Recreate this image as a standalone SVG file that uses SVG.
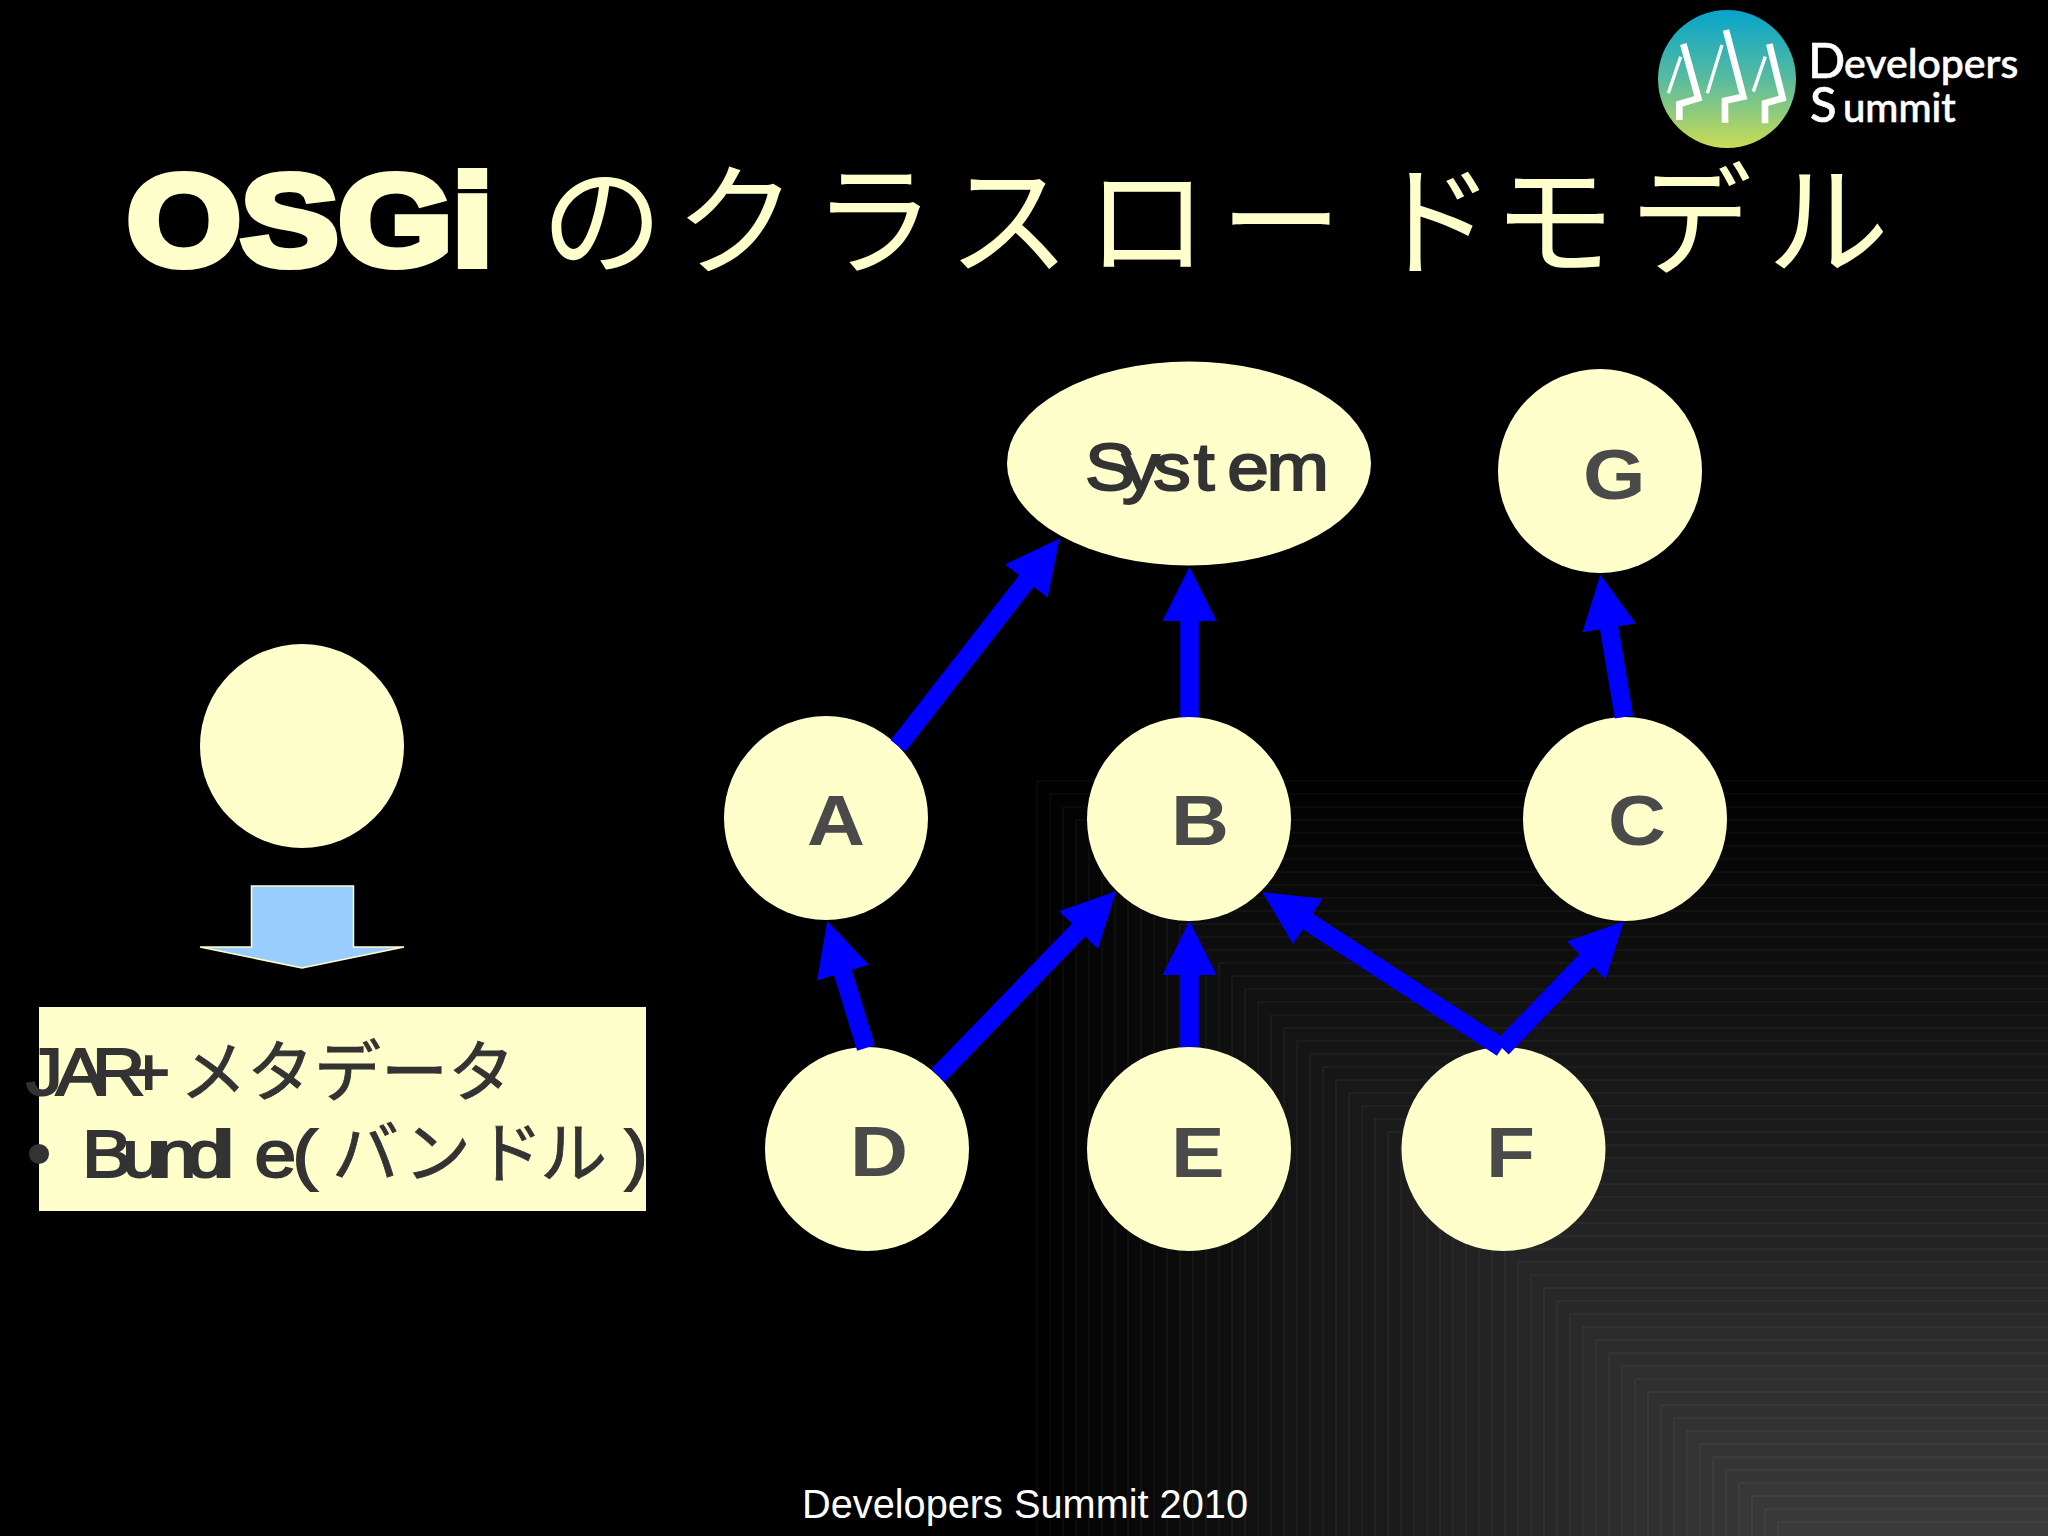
<svg xmlns="http://www.w3.org/2000/svg" width="2048" height="1536" viewBox="0 0 2048 1536">
<style>
.n{fill:#ffffcc}
.lb{font-family:"Liberation Sans",Arial,sans-serif;font-weight:700;font-size:70px;fill:#4a4a4a}
.sq{font-family:"Liberation Sans","Noto Sans CJK JP",sans-serif;font-size:67px;fill:#333;stroke:#333;stroke-width:2px}
.jp{font-family:"Noto Sans CJK JP",sans-serif;font-size:67px;fill:#333;stroke:#333;stroke-width:.8px}
.t{fill:#ffffcc}
.arrow{stroke:#0000ff;stroke-width:18.5;fill:none;marker-end:url(#h)}
.bg rect{width:1100px;height:800px;stroke:#fff;stroke-opacity:.07;stroke-width:1}
.lt{font-family:Lato,"Noto Sans",sans-serif;font-weight:500;fill:#fff;stroke:#fff;stroke-width:.6px}
</style>
<defs>
<marker id="h" markerUnits="userSpaceOnUse" viewBox="0 -27 54 54" refX="1" refY="0" markerWidth="54" markerHeight="54" orient="auto"><path d="M0-27L54 0 0 27z" fill="#0000ff"/></marker>
<linearGradient id="lg" x1="0" y1="0" x2="0" y2="1"><stop offset="0" stop-color="#06a4cc"/><stop offset=".5" stop-color="#58bb9f"/><stop offset="1" stop-color="#cbdc55"/></linearGradient>
</defs>
<rect width="2048" height="1536" fill="#000"/>
<g id="background" class="bg">
<rect x="1037" y="781" fill="#010101"/><rect x="1050" y="794" fill="#020202"/><rect x="1063" y="807" fill="#030303"/><rect x="1076" y="820" fill="#040404"/><rect x="1089" y="833" fill="#050505"/><rect x="1102" y="846" fill="#060606"/><rect x="1115" y="859" fill="#070707"/><rect x="1128" y="872" fill="#080808"/><rect x="1141" y="885" fill="#090909"/><rect x="1154" y="898" fill="#0a0a0a"/><rect x="1167" y="911" fill="#0b0b0b"/><rect x="1180" y="924" fill="#0c0c0c"/><rect x="1193" y="937" fill="#0d0d0d"/><rect x="1206" y="950" fill="#0e0e0e"/><rect x="1219" y="963" fill="#0f0f0f"/><rect x="1232" y="976" fill="#101010"/><rect x="1245" y="989" fill="#111111"/><rect x="1258" y="1002" fill="#121212"/><rect x="1271" y="1015" fill="#131313"/><rect x="1284" y="1028" fill="#141414"/><rect x="1297" y="1041" fill="#151515"/><rect x="1310" y="1054" fill="#161616"/><rect x="1323" y="1067" fill="#171717"/><rect x="1336" y="1080" fill="#181818"/><rect x="1349" y="1093" fill="#191919"/><rect x="1362" y="1106" fill="#1a1a1a"/><rect x="1375" y="1119" fill="#1b1b1b"/><rect x="1388" y="1132" fill="#1c1c1c"/><rect x="1401" y="1145" fill="#1d1d1d"/><rect x="1414" y="1158" fill="#1e1e1e"/><rect x="1427" y="1171" fill="#1f1f1f"/><rect x="1440" y="1184" fill="#202020"/><rect x="1453" y="1197" fill="#212121"/><rect x="1466" y="1210" fill="#222222"/><rect x="1479" y="1223" fill="#232323"/><rect x="1492" y="1236" fill="#242424"/><rect x="1505" y="1249" fill="#252525"/><rect x="1518" y="1262" fill="#262626"/><rect x="1531" y="1275" fill="#272727"/><rect x="1544" y="1288" fill="#282828"/><rect x="1557" y="1301" fill="#292929"/><rect x="1570" y="1314" fill="#2a2a2a"/><rect x="1583" y="1327" fill="#2b2b2b"/><rect x="1596" y="1340" fill="#2c2c2c"/><rect x="1609" y="1353" fill="#2d2d2d"/><rect x="1622" y="1366" fill="#2e2e2e"/><rect x="1635" y="1379" fill="#2f2f2f"/><rect x="1648" y="1392" fill="#303030"/><rect x="1661" y="1405" fill="#313131"/><rect x="1674" y="1418" fill="#323232"/><rect x="1687" y="1431" fill="#343334"/><rect x="1700" y="1444" fill="#353435"/><rect x="1713" y="1457" fill="#363536"/><rect x="1726" y="1470" fill="#373637"/><rect x="1739" y="1483" fill="#383738"/><rect x="1752" y="1496" fill="#393839"/><rect x="1765" y="1509" fill="#3a393a"/><rect x="1778" y="1522" fill="#3b3a3b"/>
</g>
<g id="logo">
<circle cx="1727" cy="79" r="69" fill="url(#lg)"/>
<g transform="translate(1650 10) scale(.3333)" fill="none" stroke="#fff" stroke-linejoin="miter">
<path stroke-width="20" d="M100 102L145 265 88 282 88 330"/><path stroke-width="10" d="M92 140L55 250"/>
<path stroke-width="20" d="M228 60L280 260 225 272 225 338"/><path stroke-width="10" d="M216 105L172 250"/>
<path stroke-width="20" d="M358 102L398 265 345 280 345 340"/><path stroke-width="10" d="M346 140L310 245"/>
</g>
<text class="lt" y="78" x="1808" font-size="41"><tspan font-size="49">D</tspan><tspan x="1844">evelopers</tspan></text>
<text class="lt" y="122" x="1810" font-size="40"><tspan font-size="49">S</tspan><tspan x="1843">ummit</tspan></text>
</g>
<g id="title">
<text x="127" y="265" class="t" font-family="Liberation Sans,Arial,sans-serif" font-weight="700" font-size="128" textLength="366" lengthAdjust="spacingAndGlyphs" stroke="#ffffcc" stroke-width="8">OSGi</text>
<text class="t" font-family="Noto Sans CJK JP,sans-serif" font-size="122" text-anchor="middle" x="602 736 874 1009 1147 1281 1434 1554 1691 1828" y="265">のクラスロードモデル</text>
</g>
<g id="node-unnamed"><circle class="n" cx="302" cy="746" r="102"/></g>
<g id="down-arrow"><path d="M251.5 886H353.5V947H404L302 968 200 947H251.5z" fill="#99ccff" stroke="#ffffcc" stroke-width="1.5"/></g>
<g id="bundle-box">
<rect class="n" x="39" y="1007" width="607" height="204"/>
<text class="sq" transform="translate(26 1095) scale(1.1 1)" x="0 27 60 92">JAR+</text>
<text class="jp" y="1096" x="180 247 314 381 448">メタデータ</text>
<text x="39" y="1176" text-anchor="middle" class="sq">•</text>
<text class="sq" transform="translate(82 1177) scale(1.12 1)" x="0 36 65 94 121 154 188">Bundle(</text>
<text class="jp" y="1177" x="332 404 476 540">バンドル</text>
<text class="sq" y="1177" x="625">)</text>
</g>
<g id="node-system"><ellipse class="n" cx="1189" cy="463.5" rx="182" ry="102"/><text class="sq" transform="translate(1085 490) scale(1.12 1)" x="0 33 61 97 127 162">System</text></g>
<g id="node-g"><circle class="n" cx="1600" cy="471" r="102"/><text class="lb" x="1583" y="499" textLength="62.5" lengthAdjust="spacingAndGlyphs">G</text></g>
<g id="node-a"><circle class="n" cx="826" cy="818" r="102"/><text class="lb" x="807" y="845" textLength="58" lengthAdjust="spacingAndGlyphs">A</text></g>
<g id="node-b"><circle class="n" cx="1189" cy="819" r="102"/><text class="lb" x="1171" y="845" textLength="58" lengthAdjust="spacingAndGlyphs">B</text></g>
<g id="node-c"><circle class="n" cx="1625" cy="819" r="102"/><text class="lb" x="1608" y="845" textLength="58" lengthAdjust="spacingAndGlyphs">C</text></g>
<g id="node-d"><circle class="n" cx="867" cy="1149" r="102"/><text class="lb" x="850" y="1176" textLength="58" lengthAdjust="spacingAndGlyphs">D</text></g>
<g id="node-e"><circle class="n" cx="1189" cy="1149" r="102"/><text class="lb" x="1171" y="1177" textLength="53.6" lengthAdjust="spacingAndGlyphs">E</text></g>
<g id="node-f"><circle class="n" cx="1503.5" cy="1149" r="102"/><text class="lb" x="1486" y="1177" textLength="49" lengthAdjust="spacingAndGlyphs">F</text></g>
<g id="connectors">
<line class="arrow" x1="898" y1="746" x2="1027" y2="580.3"/>
<line class="arrow" x1="1189.5" y1="717" x2="1189.5" y2="620"/>
<line class="arrow" x1="1624" y1="717" x2="1609" y2="627"/>
<line class="arrow" x1="866" y1="1048" x2="842.7" y2="971.7"/>
<line class="arrow" x1="938" y1="1075.5" x2="1079.2" y2="929.4"/>
<line class="arrow" x1="1189.5" y1="1047" x2="1189.5" y2="974"/>
<line class="arrow" x1="1502" y1="1048" x2="1307" y2="921"/>
<line class="arrow" x1="1502" y1="1048" x2="1587" y2="959.6"/>
</g>
<g id="footer"><text x="802" y="1518" font-family="Liberation Sans,Arial,sans-serif" font-size="40" fill="#fff" textLength="446" lengthAdjust="spacingAndGlyphs">Developers Summit 2010</text></g>
</svg>
